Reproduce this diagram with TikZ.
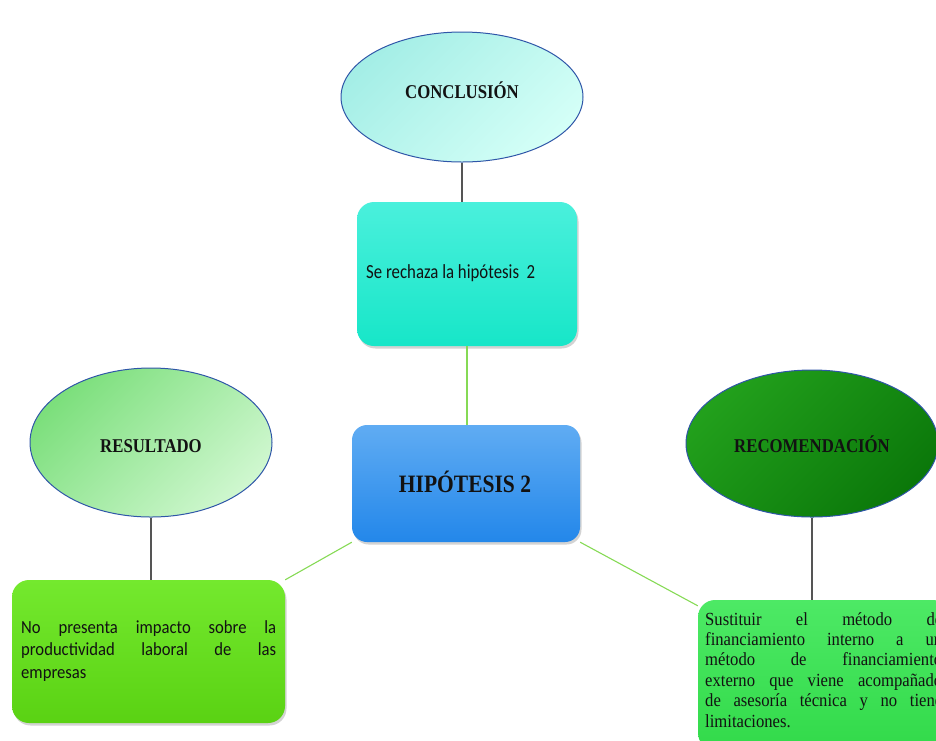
\documentclass[tikz,border=0pt]{standalone}
\usepackage{fontspec}
\setmainfont{Liberation Serif}[FakeStretch=0.9]
\newfontfamily\titlefont{Liberation Serif}[FakeStretch=0.86]
\newfontfamily\bodysans{Carlito}[FakeStretch=0.9]
\newfontfamily\notesans{Carlito}[FakeStretch=0.84]
\usetikzlibrary{shapes.geometric,shadows}

\definecolor{ovalline}{HTML}{2F56A8}
\definecolor{stemgray}{HTML}{555555}
\definecolor{linkgreen}{HTML}{86DA55}
\definecolor{titleink}{HTML}{121212}
\definecolor{concA}{HTML}{A4EEE6}
\definecolor{concB}{HTML}{D4FFF7}
\definecolor{resA}{HTML}{7CDF7C}
\definecolor{resB}{HTML}{CFF7CF}
\definecolor{recA}{HTML}{22A01C}
\definecolor{recB}{HTML}{0B780A}
\definecolor{rejA}{HTML}{4AF0DC}
\definecolor{rejB}{HTML}{17E6C8}
\definecolor{hypA}{HTML}{60ACF3}
\definecolor{hypB}{HTML}{2387EA}
\definecolor{leftA}{HTML}{74E92E}
\definecolor{leftB}{HTML}{5AD213}
\definecolor{rightA}{HTML}{4DE965}
\definecolor{rightB}{HTML}{32DA4A}

\begin{document}
\begin{tikzpicture}[x=1pt,y=-1pt,
  oval/.style={ellipse, draw=ovalline, line width=1pt, inner sep=0pt},
  diag/.style 2 args={top color=#1, bottom color=#2, shading angle=45},
  card/.style={rectangle, rounded corners=17pt, inner sep=0pt,
    drop shadow={opacity=0.35, shadow xshift=1.5pt, shadow yshift=-2.5pt}},
  stem/.style={draw=stemgray, line width=1.1pt},
  link/.style={draw=linkgreen, line width=1.1pt},
  title/.style={font=\titlefont\fontsize{19.5}{22}\selectfont\bfseries, text=titleink, inner sep=0pt, anchor=base},
  bodytext/.style={inner sep=0pt, anchor=base west, align=justify, text=titleink},
]
\useasboundingbox (0,0) rectangle (936,740);
\clip (0,0) rectangle (936,740);

% ellipses
\node[oval, minimum width=242pt, minimum height=130pt, diag={concA}{concB}] (conc) at (462,97) {};
\node[oval, minimum width=242pt, minimum height=149pt, diag={resA}{resB}] (res) at (151,442.5) {};
\node[oval, minimum width=252pt, minimum height=147pt, diag={recA}{recB}] (rec) at (812,443.5) {};

% boxes
\node[card, minimum width=220pt, minimum height=144pt, top color=rejA, bottom color=rejB] (rej) at (467,274) {};
\node[card, rounded corners=15pt, minimum width=228pt, minimum height=117pt, top color=hypA, bottom color=hypB] (hyp) at (466,483.5) {};
\node[card, minimum width=273pt, minimum height=143pt, top color=leftA, bottom color=leftB] (left) at (148.5,651.5) {};
\node[card, minimum width=252pt, minimum height=150pt, top color=rightA, bottom color=rightB] (right) at (824,675) {};

% connectors
\draw[stem] (conc.south) -- (conc.south |- rej.north);
\draw[link] (rej.south) -- (rej.south |- hyp.north);
\draw[stem] (res.south) -- (res.south |- left.north);
\draw[stem] (rec.south) -- (rec.south |- right.north);
\draw[link] (hyp.south west) -- (left.north east);
\draw[link] (hyp.south east) -- ([yshift=-6pt]right.north west);

% labels
\node[title] (concT) at (462,98) {CONCLUSIÓN};
\node[title] (resT) at (151,452) {RESULTADO};
\node[title] (recT) at (812,452) {RECOMENDACIÓN};
\node[title, font=\titlefont\fontsize{25}{28}\selectfont\bfseries] (hypT) at (465,492) {HIPÓTESIS 2};
\node[inner sep=0pt, anchor=base west, text=titleink, font=\notesans\fontsize{20}{24}\selectfont] (rejT) at (366,278) {Se rechaza la hipótesis\ \ 2};

\node[bodytext, text width=255pt, font=\bodysans\fontsize{18.5}{22.5}\selectfont] (leftT) at (21,633)
  {No presenta impacto sobre la\linebreak productividad laboral de las\linebreak empresas};
\node[bodytext, text width=237pt, font=\fontsize{18.5}{20.4}\selectfont] (rightT) at (705,625)
  {Sustituir el método de\linebreak financiamiento interno a un\linebreak método de financiamiento\linebreak externo que viene acompañado\linebreak de asesoría técnica y no tiene\linebreak limitaciones.};
\end{tikzpicture}
\end{document}
